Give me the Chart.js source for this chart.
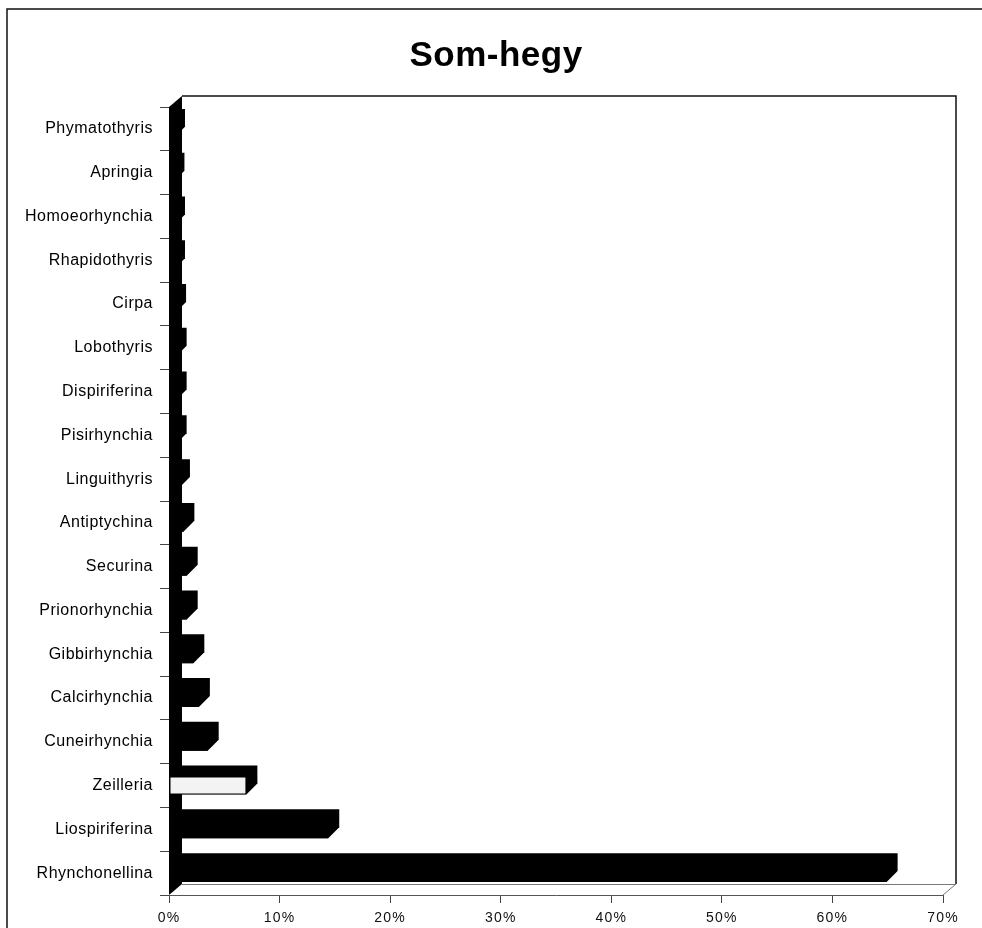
<!DOCTYPE html>
<html>
<head>
<meta charset="utf-8">
<title>Som-hegy</title>
<script src="https://cdn.jsdelivr.net/npm/chart.js@4.4.1/dist/chart.umd.min.js"></script>
<style>
  html, body { margin: 0; padding: 0; background: #ffffff; }
  #wrap { width: 982px; height: 928px; }
</style>
</head>
<body>
<div id="wrap"><canvas id="chart" width="982" height="928"></canvas></div>
<script>
// Brachiopod genera, top to bottom
const genera = [
  'Phymatothyris', 'Apringia', 'Homoeorhynchia', 'Rhapidothyris', 'Cirpa',
  'Lobothyris', 'Dispiriferina', 'Pisirhynchia', 'Linguithyris', 'Antiptychina',
  'Securina', 'Prionorhynchia', 'Gibbirhynchia', 'Calcirhynchia', 'Cuneirhynchia',
  'Zeilleria', 'Liospiriferina', 'Rhynchonellina'
];

// Share of each genus in the assemblage (%)
const shares = [
  0.45, 0.4, 0.45, 0.45, 0.55,
  0.6, 0.6, 0.6, 0.9, 1.3,
  1.6, 1.6, 2.2, 2.7, 3.5,
  7.0, 14.4, 64.9
];

// Percentage axis ticks
const axisTicks = [0, 10, 20, 30, 40, 50, 60, 70];

const chartTitle = 'Som-hegy';

// Genera drawn with a pale face instead of solid black
const paleGenera = ['Zeilleria'];

const FONT = '"Liberation Sans", Arial, Helvetica, sans-serif';

// Depth of the 3-D box and of each bar
const WALL_DX = 13, WALL_DY = -11;
const BAR_DX = 11, BAR_DY = -11;

const faceColors = genera.map(g => paleGenera.includes(g) ? '#f3f3f3' : '#000000');

// Letter spacing: genus labels first, wider for the percentage labels
const spacingPlugin = {
  id: 'spacing',
  beforeInit(chart) { chart.ctx.letterSpacing = '0.5px'; },
  beforeDraw(chart) { chart.ctx.letterSpacing = '0.5px'; },
  afterDatasetsDraw(chart) { chart.ctx.letterSpacing = '1.2px'; },
  afterDraw(chart) { chart.ctx.letterSpacing = '0.5px'; }
};

// Outer frame of the chart object and the title
const framePlugin = {
  id: 'frame',
  beforeDraw(chart) {
    const ctx = chart.ctx;
    ctx.save();
    ctx.strokeStyle = '#111';
    ctx.lineWidth = 1.5;
    ctx.beginPath();
    ctx.moveTo(7, chart.height + 5);
    ctx.lineTo(7, 9);
    ctx.lineTo(chart.width + 5, 9);
    ctx.stroke();

    ctx.fillStyle = '#000';
    ctx.font = 'bold 35px ' + FONT;
    ctx.textAlign = 'center';
    ctx.textBaseline = 'alphabetic';
    ctx.fillText(chartTitle, 496, 66);
    ctx.restore();
  }
};

// Back wall, floor, black side wall and the depth of each bar
const depthPlugin = {
  id: 'depth',
  beforeDatasetsDraw(chart) {
    const ctx = chart.ctx;
    const xs = chart.scales.x;
    const area = chart.chartArea;
    const L = xs.getPixelForValue(axisTicks[0]);
    const R = xs.getPixelForValue(axisTicks[axisTicks.length - 1]);
    const T = area.top, B = area.bottom;
    ctx.save();

    // back wall outline
    ctx.strokeStyle = '#111';
    ctx.lineWidth = 1.5;
    ctx.beginPath();
    ctx.moveTo(L + WALL_DX, T + WALL_DY);
    ctx.lineTo(R + WALL_DX, T + WALL_DY);
    ctx.lineTo(R + WALL_DX, B + WALL_DY);
    ctx.stroke();

    // floor: back edge and right edge
    ctx.strokeStyle = '#777';
    ctx.lineWidth = 1;
    ctx.beginPath();
    ctx.moveTo(L + WALL_DX, B + WALL_DY + 0.5);
    ctx.lineTo(R + WALL_DX, B + WALL_DY + 0.5);
    ctx.moveTo(R, B);
    ctx.lineTo(R + WALL_DX, B + WALL_DY);
    ctx.stroke();

    // left side wall
    ctx.fillStyle = '#000';
    ctx.beginPath();
    ctx.moveTo(L, T);
    ctx.lineTo(L + WALL_DX, T + WALL_DY);
    ctx.lineTo(L + WALL_DX, B + WALL_DY);
    ctx.lineTo(L, B);
    ctx.closePath();
    ctx.fill();

    // whole silhouette of each bar (front, top and side faces);
    // the front face is then painted over it by the bar element
    const meta = chart.getDatasetMeta(0);
    meta.data.forEach(bar => {
      const p = bar.getProps(['x', 'y', 'base', 'height'], true);
      const top = p.y - p.height / 2;
      const bot = p.y + p.height / 2;
      ctx.fillStyle = '#000';
      ctx.beginPath();
      ctx.moveTo(p.base, bot);
      ctx.lineTo(p.base, top);
      ctx.lineTo(p.base + BAR_DX, top + BAR_DY);
      ctx.lineTo(p.x + BAR_DX, top + BAR_DY);
      ctx.lineTo(p.x + BAR_DX, bot + BAR_DY);
      ctx.lineTo(p.x, bot);
      ctx.closePath();
      ctx.fill();
    });
    ctx.restore();
  }
};

new Chart(document.getElementById('chart'), {
  type: 'bar',
  data: {
    labels: genera,
    datasets: [{
      data: shares,
      backgroundColor: faceColors,
      borderColor: '#000',
      borderWidth: genera.map(g => paleGenera.includes(g) ? 1 : 0),
      borderSkipped: false,
      barPercentage: 0.41,
      categoryPercentage: 1.0
    }]
  },
  options: {
    indexAxis: 'y',
    responsive: false,
    animation: false,
    devicePixelRatio: 1,
    layout: { padding: { top: 107, right: 39, bottom: 0, left: 0 } },
    plugins: {
      legend: { display: false },
      tooltip: { enabled: false },
      title: { display: false }
    },
    scales: {
      x: {
        type: 'linear',
        min: axisTicks[0],
        max: axisTicks[axisTicks.length - 1],
        afterBuildTicks(scale) { scale.ticks = axisTicks.map(v => ({ value: v })); },
        afterFit(scale) { scale.height = 33; },
        ticks: {
          color: '#111',
          font: { family: FONT, size: 14 },
          padding: 7,
          maxRotation: 0,
          z: 1,
          callback: v => v + '%'
        },
        grid: {
          drawOnChartArea: false,
          drawTicks: true,
          tickLength: 8,
          color: '#444'
        },
        border: { display: true, color: '#555', width: 1 }
      },
      y: {
        type: 'category',
        afterFit(scale) { scale.width = 169; },
        ticks: {
          color: '#000',
          font: { family: FONT, size: 16 },
          padding: 7,
          autoSkip: false
        },
        grid: {
          offset: true,
          drawOnChartArea: false,
          drawTicks: true,
          tickLength: 9,
          color: '#444'
        },
        border: { display: false }
      }
    }
  },
  plugins: [spacingPlugin, framePlugin, depthPlugin]
});
</script>
</body>
</html>
